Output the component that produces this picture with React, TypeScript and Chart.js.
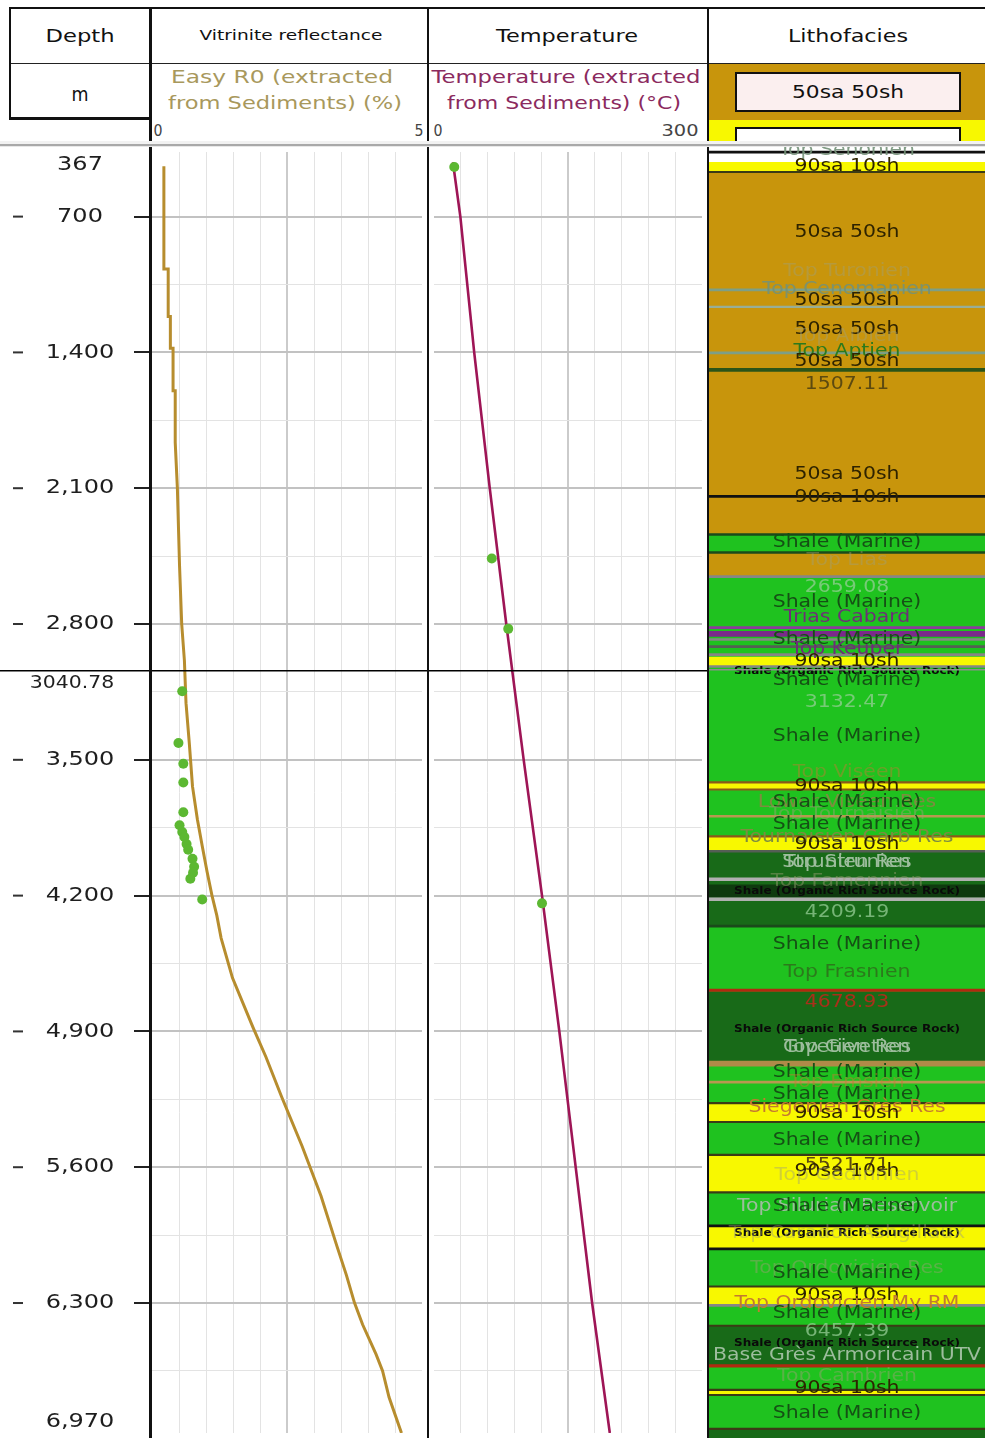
import React, { useEffect, useRef } from 'react';
import { Chart, registerables } from 'chart.js';

Chart.register(...registerables);

const FONT_FAMILY = '"DejaVu Sans", Verdana, sans-serif';
const TEXT_STRETCH = 1.2;

const PAGE_W = 985;
const PAGE_H = 1438;
const PLOT_TOP = 147;
const PLOT_H = PAGE_H - PLOT_TOP;

// ---- Depth axis (m) ----
const DEPTH_MIN = 367;
const DEPTH_MAX = 6970;
const CURSOR_DEPTH = 3040.78;
const DEPTH_LABELS = [700, 1400, 2100, 2800, 3500, 4200, 4900, 5600, 6300];
const DEPTH_GRID = [700, 1050, 1400, 1750, 2100, 2450, 2800, 3150, 3500, 3850, 4200, 4550, 4900, 5250, 5600, 5950, 6300, 6650];

// ---- Vitrinite reflectance (%) ----
const RO_MIN = 0;
const RO_MAX = 5;
const RO_GRID = [0.5, 1, 1.5, 2, 2.5, 3, 3.5, 4, 4.5];
const easyRoDepth = [440, 970, 970, 1215, 1215, 1379, 1379, 1598, 1598, 1864, 2100, 2500, 2800, 2988, 3208, 3412, 3637, 3806, 3944, 4077, 4199, 4302, 4419, 4624, 4879, 5032, 5237, 5492, 5748, 6003, 6156, 6299, 6411, 6565, 6650, 6786, 6970];
const easyRoValue = [0.22, 0.22, 0.3, 0.3, 0.34, 0.34, 0.39, 0.39, 0.43, 0.43, 0.47, 0.51, 0.55, 0.6, 0.63, 0.69, 0.75, 0.84, 0.93, 1.02, 1.11, 1.2, 1.28, 1.49, 1.87, 2.11, 2.4, 2.78, 3.13, 3.42, 3.6, 3.75, 3.9, 4.15, 4.27, 4.39, 4.62];
const roSampleDepth = [3147, 3413, 3520, 3617, 3770, 3837, 3872, 3898, 3934, 3964, 4010, 4051, 4082, 4113, 4220];
const roSampleValue = [0.56, 0.49, 0.58, 0.58, 0.58, 0.51, 0.56, 0.6, 0.64, 0.67, 0.75, 0.78, 0.76, 0.71, 0.93];

// ---- Temperature (°C) ----
const TEMP_MIN = 0;
const TEMP_MAX = 300;
const TEMP_GRID = [30, 60, 90, 120, 150, 180, 210, 240, 270];
const tempDepth = [420, 700, 1400, 2100, 2800, 3500, 4200, 4900, 5600, 6300, 6970];
const tempValue = [21.2, 29.5, 45.0, 62.4, 80.9, 100.4, 120.9, 140.3, 158.6, 177, 196.8];
const tempSampleDepth = [444, 2462, 2825, 4240];
const tempSampleValue = [22.7, 64.7, 83.1, 120.9];

// ---- Lithofacies column ----
const lithoTop = [367, 442, 495, 2349, 2441, 2564, 2973, 3024, 3617, 3653, 3893, 3969, 4352, 4684, 5042, 5257, 5354, 5522, 5714, 5885, 6003, 6195, 6292, 6396, 6600, 6724, 6750, 6923];
const lithoBase = [442, 495, 2349, 2441, 2564, 2973, 3024, 3617, 3653, 3893, 3969, 4352, 4684, 5042, 5257, 5354, 5522, 5714, 5885, 6003, 6195, 6292, 6396, 6600, 6724, 6750, 6923, 6970];
const lithoFacies = [
  'none', '90sa 10sh', '50sa 50sh', 'Shale (Marine)', '50sa 50sh', 'Shale (Marine)', '90sa 10sh',
  'Shale (Marine)', '90sa 10sh', 'Shale (Marine)', '90sa 10sh', 'Shale (Organic Rich Source Rock)',
  'Shale (Marine)', 'Shale (Organic Rich Source Rock)', 'Shale (Marine)', '90sa 10sh', 'Shale (Marine)',
  '90sa 10sh', 'Shale (Marine)', '90sa 10sh', 'Shale (Marine)', '90sa 10sh', 'Shale (Marine)',
  'Shale (Organic Rich Source Rock)', 'Shale (Marine)', '90sa 10sh', 'Shale (Marine)', 'Shale (Organic Rich Source Rock)',
];

// Horizon / boundary lines drawn across the column
const horizonDepth = [393, 495, 1098, 1185, 1420, 1507.11, 2154, 2349, 2441, 2564, 2825, 2857, 2886, 2922, 2963, 3024, 3617, 3653, 3790, 3893, 3969, 4112, 4172, 4214, 4352, 4680, 5055, 5150, 5257, 5354, 5522, 5714, 5885, 6003, 6195, 6292, 6396, 6601, 6724, 6750, 6923];
const horizonKind = ['black', 'dark', 'topGrey', 'topGreyLight', 'topGrey', 'topDarkGreen', 'black', 'darkGreen', 'darkGreen', 'grey', 'purple', 'purpleThick', 'grey', 'greyDark', 'grey', 'grey', 'brown', 'brown', 'tan', 'brown', 'greyDark', 'greyLight', 'strip', 'greyLight', 'darkGreen', 'red', 'tanThick', 'tan', 'dark', 'dark', 'dark', 'dark', 'black', 'black', 'dark', 'grey', 'dark', 'red', 'dark', 'dark', 'dark'];

// Text annotations of the column
const labelText = [
  'Top Senonien', '90sa 10sh', '50sa 50sh', 'Top Turonien', 'Top Cenomanien', '50sa 50sh', '50sa 50sh', 'Top Albien',
  'Top Aptien', '50sa 50sh', '1507.11', '50sa 50sh', '90sa 10sh', 'Shale (Marine)', 'Top Lias', '2659.08',
  'Shale (Marine)', 'Trias Cabard', 'Shale (Marine)', 'Top Keuper', '90sa 10sh', 'Shale (Organic Rich Source Rock)',
  'Shale (Marine)', '3132.47', 'Shale (Marine)', 'Top Viséen', '90sa 10sh', 'Lower Viséen Res', 'Shale (Marine)',
  'Top Tournaisien', 'Shale (Marine)', 'Tournaisien Carb Res', '90sa 10sh', 'Strunien Res', 'Top Strunien',
  'Top Famennien', 'Shale (Organic Rich Source Rock)', '4209.19', 'Shale (Marine)', 'Top Frasnien', '4678.93',
  'Shale (Organic Rich Source Rock)', 'Givetien Res', 'Top Givetien', 'Shale (Marine)', 'Top Emsien', 'Shale (Marine)',
  'Siegenien Grès Res', '90sa 10sh', 'Shale (Marine)', '5521.71', '90sa 10sh', 'Top Gedinnien',
  'Top Silurian Reservoir', 'Shale (Marine)', 'Shale (Organic Rich Source Rock)', 'Top Caradoc Ashgillaux',
  'Top Ordovicien Res', 'Shale (Marine)', '90sa 10sh', 'Top Ordovicien My RM', 'Shale (Marine)', '6457.39',
  'Shale (Organic Rich Source Rock)', 'Base Grès Armoricain UTV', 'Top Cambrien', '90sa 10sh', 'Shale (Marine)',
];
const labelDepth = [
  385, 469, 806, 1006, 1098, 1154, 1302, 1336,
  1415, 1466, 1583, 2043, 2160, 2390, 2482, 2620,
  2697, 2774, 2886, 2937, 2998, 3050,
  3095, 3208, 3382, 3566, 3637, 3719, 3719,
  3780, 3831, 3897, 3933, 4025, 4025,
  4122, 4173, 4281, 4444, 4587, 4741,
  4879, 4971, 4971, 5099, 5150, 5211,
  5278, 5313, 5451, 5579, 5605, 5630,
  5788, 5788, 5926, 5926,
  6105, 6130, 6243, 6284, 6335, 6427,
  6488, 6550, 6657, 6719, 6847,
];
const labelKind = [
  'top', 'lith', 'lith', 'faint', 'top', 'lith', 'lith', 'faint',
  'topGreen', 'lith', 'depthDark', 'lith', 'lith', 'shale', 'faint', 'depthLight',
  'shale', 'topPurple', 'shale', 'topPurple', 'lith', 'src',
  'shale', 'depthLight', 'shale', 'faintOrange', 'lith', 'res', 'shale',
  'faint', 'shale', 'res', 'lith', 'resLight', 'resLight',
  'faint', 'src', 'depthLight', 'shale', 'topGreen', 'depthRed',
  'src', 'resLight', 'resLight', 'shale', 'faintOrange', 'shale',
  'resOrange', 'lith', 'shale', 'depthDark', 'lith', 'faint',
  'resLight', 'shale', 'src', 'faint',
  'faint', 'shale', 'lith', 'resOrange', 'shale', 'depthLight',
  'src', 'resLight', 'faint', 'lith', 'shale',
];

// ---- Styles ----
const FACIES_COLOR: Record<string, string> = {
  none: '#ffffff',
  '50sa 50sh': '#c8950c',
  '90sa 10sh': '#f8f800',
  'Shale (Marine)': '#1fc21f',
  'Shale (Organic Rich Source Rock)': '#186a18',
};
const HORIZON_STYLE: Record<string, { color: string; px: number }> = {
  black: { color: '#111111', px: 2 },
  dark: { color: '#3b3b16', px: 1.5 },
  darkGreen: { color: '#1b4a1b', px: 2 },
  topGrey: { color: '#7d9f86', px: 2 },
  topGreyLight: { color: '#98ae96', px: 1.5 },
  topDarkGreen: { color: '#2b5418', px: 3 },
  grey: { color: '#868686', px: 2 },
  greyDark: { color: '#555f55', px: 2 },
  greyLight: { color: '#b0b0b0', px: 3 },
  purple: { color: '#8c3c9c', px: 2 },
  purpleThick: { color: '#7a2a8a', px: 5 },
  brown: { color: '#8b5a1a', px: 1.5 },
  tan: { color: '#b89850', px: 2 },
  tanThick: { color: '#b08a48', px: 5 },
  strip: { color: '#0e3a0e', px: 12 },
  red: { color: '#b02a10', px: 2.5 },
};
const LABEL_STYLE: Record<string, { size: number; color: string; weight?: string }> = {
  lith: { size: 17, color: '#2e2300' },
  shale: { size: 17, color: '#155015' },
  top: { size: 17, color: 'rgba(115,145,120,0.9)' },
  faint: { size: 17, color: 'rgba(160,160,120,0.45)' },
  faintOrange: { size: 17, color: 'rgba(200,120,50,0.45)' },
  topGreen: { size: 17, color: '#2c7a1c' },
  topPurple: { size: 17, color: '#6e2f78' },
  depthDark: { size: 17, color: '#5c4a10' },
  depthLight: { size: 17, color: 'rgba(150,205,150,0.75)' },
  depthRed: { size: 17, color: '#a8301a' },
  src: { size: 10, color: '#0a0a0a', weight: 'bold' },
  res: { size: 17, color: '#7d8c40' },
  resLight: { size: 17, color: '#9dbd9d' },
  resOrange: { size: 17, color: '#c47a30' },
};

const GRID_MAJOR = '#c2c2c2';
const GRID_MINOR = '#e3e3e3';
const RO_LINE = '#b78d2e';
const TEMP_LINE = '#9e1556';
const SAMPLE_GREEN = '#5cb832';

const PX_PER_M = PLOT_H / (DEPTH_MAX - DEPTH_MIN);

function drawStretched(ctx: CanvasRenderingContext2D, text: string, x: number, y: number, font: string, color: string) {
  ctx.save();
  ctx.font = font;
  ctx.fillStyle = color;
  ctx.textAlign = 'center';
  ctx.textBaseline = 'middle';
  ctx.translate(x, y);
  ctx.scale(TEXT_STRETCH, 1);
  ctx.fillText(text, 0, 0);
  ctx.restore();
}

const isMajorDepth = (v: number) => v % 700 === 0;

function depthScale(withAxis: boolean) {
  return {
    type: 'linear',
    reverse: true,
    min: DEPTH_MIN,
    max: DEPTH_MAX,
    position: 'left',
    afterBuildTicks: (s: any) => { s.ticks = DEPTH_GRID.map((v) => ({ value: v })); },
    afterFit: (s: any) => { s.width = withAxis ? 152 : 0; },
    ticks: { display: false },
    border: { display: false },
    grid: {
      drawTicks: withAxis,
      tickLength: 18,
      tickWidth: 2,
      tickColor: (c: any) => (c.tick && isMajorDepth(c.tick.value) ? '#222222' : 'rgba(0,0,0,0)'),
      color: (c: any) => (c.tick && isMajorDepth(c.tick.value) ? GRID_MAJOR : GRID_MINOR),
      lineWidth: (c: any) => (c.tick && isMajorDepth(c.tick.value) ? 2 : 1),
    },
  };
}

function valueScale(min: number, max: number, grid: number[]) {
  const mid = (min + max) / 2;
  return {
    type: 'linear',
    min,
    max,
    position: 'bottom',
    afterBuildTicks: (s: any) => { s.ticks = grid.map((v) => ({ value: v })); },
    afterFit: (s: any) => { s.height = 0; },
    ticks: { display: false },
    border: { display: false },
    grid: {
      drawTicks: false,
      color: (c: any) => (c.tick && c.tick.value === mid ? '#cbcbcb' : GRID_MINOR),
      lineWidth: (c: any) => (c.tick && c.tick.value === mid ? 2 : 1),
    },
  };
}

function cursorPlugin(color: string) {
  return {
    id: 'cursorLine',
    afterDraw(chart: any) {
      const { ctx } = chart;
      const y = chart.scales.y.getPixelForValue(CURSOR_DEPTH);
      ctx.save();
      ctx.strokeStyle = color;
      ctx.lineWidth = 1.5;
      ctx.beginPath();
      ctx.moveTo(0, y);
      ctx.lineTo(chart.width, y);
      ctx.stroke();
      ctx.restore();
    },
  };
}

const depthColumnPlugin = {
  id: 'depthColumn',
  afterDraw(chart: any) {
    const { ctx } = chart;
    const ys = chart.scales.y;
    const cx = 80;
    const font = `20px ${FONT_FAMILY}`;
    const ink = '#1e1e1e';
    DEPTH_LABELS.forEach((d) => {
      const py = ys.getPixelForValue(d);
      drawStretched(ctx, d.toLocaleString('en-US'), cx, py, font, ink);
      ctx.fillStyle = '#333333';
      ctx.fillRect(13, py - 1, 10, 2);
    });
    drawStretched(ctx, DEPTH_MIN.toLocaleString('en-US'), cx, ys.getPixelForValue(DEPTH_MIN) + 13, font, ink);
    drawStretched(ctx, DEPTH_MAX.toLocaleString('en-US'), cx, ys.getPixelForValue(DEPTH_MAX) - 11, font, ink);
    drawStretched(ctx, CURSOR_DEPTH.toFixed(2), 72, ys.getPixelForValue(CURSOR_DEPTH) + 13, `17px ${FONT_FAMILY}`, ink);
  },
};

const lithoLabelPlugin = {
  id: 'lithoLabels',
  afterDatasetsDraw(chart: any) {
    const { ctx, chartArea } = chart;
    const ys = chart.scales.y;
    const cx = (chartArea.left + chartArea.right) / 2;
    ctx.save();
    ctx.beginPath();
    ctx.rect(chartArea.left, chartArea.top, chartArea.right - chartArea.left, chartArea.bottom - chartArea.top);
    ctx.clip();
    labelText.forEach((t, i) => {
      const st = LABEL_STYLE[labelKind[i]];
      const font = `${st.weight || 'normal'} ${st.size}px ${FONT_FAMILY}`;
      drawStretched(ctx, t, cx, ys.getPixelForValue(labelDepth[i]), font, st.color);
    });
    ctx.restore();
  },
};

function trackConfig(kind: 'ro' | 'temp') {
  const isRo = kind === 'ro';
  const curveDepth = isRo ? easyRoDepth : tempDepth;
  const curveValue = isRo ? easyRoValue : tempValue;
  const sDepth = isRo ? roSampleDepth : tempSampleDepth;
  const sValue = isRo ? roSampleValue : tempSampleValue;
  return {
    type: 'line',
    data: {
      datasets: [
        {
          type: 'scatter',
          data: sDepth.map((d, i) => ({ x: sValue[i], y: d })),
          backgroundColor: SAMPLE_GREEN,
          borderColor: SAMPLE_GREEN,
          pointRadius: 5,
          pointBorderWidth: 0,
          order: 0,
        },
        {
          type: 'line',
          data: curveDepth.map((d, i) => ({ x: curveValue[i], y: d })),
          borderColor: isRo ? RO_LINE : TEMP_LINE,
          borderWidth: isRo ? 3 : 2.6,
          pointRadius: 0,
          tension: 0,
          fill: false,
          order: 1,
        },
      ],
    },
    options: {
      animation: false,
      responsive: false,
      devicePixelRatio: 1,
      indexAxis: 'y',
      layout: { padding: 0 },
      plugins: { legend: { display: false }, tooltip: { enabled: false } },
      scales: {
        x: isRo ? valueScale(RO_MIN, RO_MAX, RO_GRID) : valueScale(TEMP_MIN, TEMP_MAX, TEMP_GRID),
        y: depthScale(isRo),
      },
    },
    plugins: isRo ? [depthColumnPlugin, cursorPlugin('#000000')] : [cursorPlugin('#000000')],
  };
}

function lithoConfig() {
  const bands = lithoTop.map((top, i) => ({
    data: [[top, lithoBase[i]]],
    backgroundColor: FACIES_COLOR[lithoFacies[i]],
    borderWidth: 0,
    grouped: false,
    categoryPercentage: 1,
    barPercentage: 1,
    order: 2,
  }));
  const horizons = horizonDepth.map((d, i) => {
    const st = HORIZON_STYLE[horizonKind[i]];
    const half = st.px / PX_PER_M / 2;
    return {
      data: [[d - half, d + half]],
      backgroundColor: st.color,
      borderWidth: 0,
      grouped: false,
      categoryPercentage: 1,
      barPercentage: 1,
      order: 1,
    };
  });
  return {
    type: 'bar',
    data: { labels: ['Lithofacies'], datasets: [...bands, ...horizons] },
    options: {
      animation: false,
      responsive: false,
      devicePixelRatio: 1,
      layout: { padding: 0 },
      plugins: { legend: { display: false }, tooltip: { enabled: false } },
      scales: {
        x: { type: 'category', display: false, offset: true },
        y: { type: 'linear', display: false, reverse: true, min: DEPTH_MIN, max: DEPTH_MAX },
      },
    },
    plugins: [lithoLabelPlugin, cursorPlugin('#8e8e8e')],
  };
}

function ChartCanvas({ left, width, build }: { left: number; width: number; build: () => any }) {
  const ref = useRef<HTMLCanvasElement | null>(null);
  useEffect(() => {
    const chart = new Chart(ref.current as HTMLCanvasElement, build());
    return () => chart.destroy();
  }, []);
  return (
    <canvas
      ref={ref}
      width={width}
      height={PLOT_H}
      style={{ position: 'absolute', left, top: PLOT_TOP, width, height: PLOT_H, display: 'block' }}
    />
  );
}

let measureCtx: CanvasRenderingContext2D | null = null;
function measure(text: string, font: string) {
  if (!measureCtx) measureCtx = document.createElement('canvas').getContext('2d');
  measureCtx!.font = font;
  return measureCtx!.measureText(text).width;
}

function HText({ text, cx, cy, size, width, color = '#111' }: { text: string; cx: number; cy: number; size: number; width: number; color?: string }) {
  const font = `${size}px ${FONT_FAMILY}`;
  const sx = width / measure(text, font);
  return (
    <div
      style={{
        position: 'absolute',
        left: cx,
        top: cy,
        font,
        lineHeight: 1,
        color,
        whiteSpace: 'nowrap',
        transform: `translate(-50%, -50%) scaleX(${sx})`,
      }}
    >
      {text}
    </div>
  );
}

function Rule({ x, y, w, h, color = '#111' }: { x: number; y: number; w: number; h: number; color?: string }) {
  return <div style={{ position: 'absolute', left: x, top: y, width: w, height: h, background: color }} />;
}

export default function App() {
  return (
    <div
      style={{
        position: 'absolute',
        left: 0,
        top: 0,
        width: PAGE_W,
        height: PAGE_H,
        overflow: 'hidden',
        background: '#ffffff',
      }}
    >
      {/* plot tracks */}
      <ChartCanvas left={0} width={427} build={() => trackConfig('ro')} />
      <ChartCanvas left={429} width={278} build={() => trackConfig('temp')} />
      <ChartCanvas left={709} width={276} build={lithoConfig} />

      {/* header backgrounds */}
      <Rule x={709} y={64} w={276} h={56} color={FACIES_COLOR['50sa 50sh']} />
      <Rule x={709} y={120} w={276} h={23} color={FACIES_COLOR['90sa 10sh']} />
      <div style={{ position: 'absolute', left: 735, top: 72, width: 222, height: 36, background: '#fbefef', border: '2px solid #111' }} />
      <div style={{ position: 'absolute', left: 735, top: 127, width: 222, height: 16, background: '#ffffff', border: '2px solid #111', borderBottom: 'none' }} />

      {/* header grid */}
      <Rule x={9} y={7} w={976} h={2} />
      <Rule x={9} y={63} w={976} h={1} color="#222" />
      <Rule x={9} y={7} w={2} h={112} />
      <Rule x={9} y={117} w={141} h={3} />

      {/* track separators */}
      <Rule x={149} y={7} w={3} h={PAGE_H - 7} />
      <Rule x={427} y={7} w={2} h={PAGE_H - 7} />
      <Rule x={707} y={7} w={2} h={PAGE_H - 7} />

      {/* header / plot separator */}
      <Rule x={0} y={141} w={PAGE_W} h={3} color="#f2f2f2" />
      <Rule x={0} y={144} w={PAGE_W} h={2} color="#a9a9a9" />
      <Rule x={0} y={146} w={PAGE_W} h={1} color="#e8e8e8" />

      {/* header texts */}
      <HText text="Depth" cx={80} cy={36} size={17} width={69} />
      <HText text="Vitrinite reflectance" cx={291} cy={35} size={14} width={183} />
      <HText text="Temperature" cx={567} cy={36} size={17} width={142} />
      <HText text="Lithofacies" cx={848} cy={36} size={17} width={120} />
      <HText text="m" cx={80} cy={94} size={19} width={17} />
      <HText text="Easy R0 (extracted" cx={282} cy={77} size={17} width={222} color="#a8985c" />
      <HText text="from Sediments) (%)" cx={285} cy={103} size={17} width={234} color="#a8985c" />
      <HText text="Temperature (extracted" cx={566} cy={77} size={17} width={269} color="#8b2a5e" />
      <HText text="from Sediments) (°C)" cx={564} cy={103} size={17} width={234} color="#8b2a5e" />
      <HText text="0" cx={158} cy={131} size={16} width={9} color="#444" />
      <HText text="5" cx={419} cy={131} size={16} width={9} color="#444" />
      <HText text="0" cx={438} cy={131} size={16} width={9} color="#444" />
      <HText text="300" cx={680} cy={131} size={16} width={37} color="#444" />
      <HText text="50sa 50sh" cx={848} cy={92} size={18} width={112} />
    </div>
  );
}
